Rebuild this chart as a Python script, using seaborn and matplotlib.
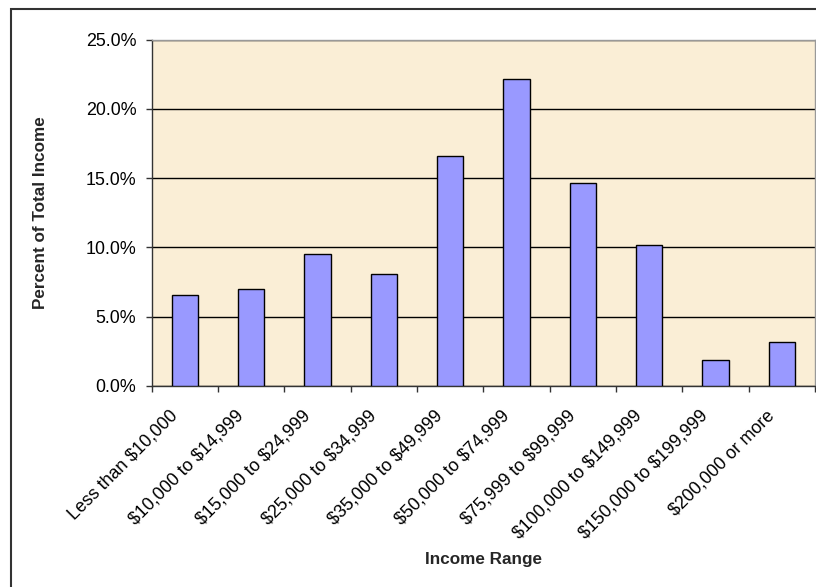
import matplotlib
matplotlib.use("Agg")
import matplotlib.pyplot as plt
import matplotlib.transforms as mtransforms
from matplotlib.patches import Rectangle
from matplotlib.ticker import PercentFormatter, FixedLocator
import seaborn as sns
import pandas as pd

categories = [
    "Less than $10,000",
    "$10,000 to $14,999",
    "$15,000 to $24,999",
    "$25,000 to $34,999",
    "$35,000 to $49,999",
    "$50,000 to $74,999",
    "$75,999 to $99,999",
    "$100,000 to $149,999",
    "$150,000 to $199,999",
    "$200,000 or more",
]
percent_values = [6.6, 7.0, 9.5, 8.05, 16.6, 22.15, 14.65, 10.2, 1.85, 3.2]
y_ticks = [0, 5, 10, 15, 20, 25]

sns.set_theme(style="white")
plt.rcParams["font.family"] = ["Liberation Sans", "DejaVu Sans"]
plt.rcParams["text.parse_math"] = False

df = pd.DataFrame({"Income Range": categories, "Percent": percent_values})

fig = plt.figure(figsize=(8.16, 5.87), dpi=100)
fig.patch.set_facecolor("white")
ax = fig.add_axes([151.7 / 816, 1 - 386 / 587, (815 - 151.7) / 816, (386 - 39.5) / 587])
ax.set_facecolor("#FAEED6")

sns.barplot(data=df, x="Income Range", y="Percent", color="#9999FF",
            saturation=1, width=0.4, edgecolor="black", linewidth=1.0,
            ax=ax, zorder=3)

ax.set_ylim(0, 25)
ax.set_xlim(-0.5, len(categories) - 0.5)
ax.set_yticks(y_ticks)
ax.yaxis.set_major_formatter(PercentFormatter(decimals=1))
ax.grid(axis="y", color="black", linewidth=1.0, zorder=1)
ax.set_axisbelow(True)

# tick marks at category boundaries
ax.xaxis.set_minor_locator(FixedLocator([i - 0.5 for i in range(len(categories) + 1)]))
ax.tick_params(axis="x", which="minor", bottom=True, length=4, width=1, color="#333333")
ax.tick_params(axis="x", which="major", bottom=True, length=0, pad=15, labelsize=12.9, colors="black")
ax.tick_params(axis="y", which="major", left=True, length=4, width=1, pad=7, labelsize=12.9, color="#333333", labelcolor="black")

offset = mtransforms.ScaledTranslation(-0.16, 0, fig.dpi_scale_trans)
for lab in ax.get_xticklabels():
    lab.set_rotation(45)
    lab.set_ha("right")
    lab.set_va("top")
    lab.set_rotation_mode("anchor")
    lab.set_transform(lab.get_transform() + offset)

for side in ["left", "bottom"]:
    ax.spines[side].set_color("#333333")
    ax.spines[side].set_linewidth(1.0)
for side in ["top", "right"]:
    ax.spines[side].set_color("#999999")
    ax.spines[side].set_linewidth(1.0)
    ax.spines[side].set_visible(True)

ax.set_xlabel("Income Range", fontsize=12.3, fontweight="bold", va="center")
ax.xaxis.set_label_coords(0.5, -(559.5 - 386) / (386 - 39.5))
ax.set_ylabel("Percent of Total Income", fontsize=12.3, fontweight="bold", va="center")
ax.yaxis.set_label_coords((41 - 151.7) / (815 - 151.7), 0.5)

# outer chart border
fig.patches.append(Rectangle((11 / 816, -0.1), 2, 1 - 9 / 587 + 0.1,
                             transform=fig.transFigure, fill=False,
                             edgecolor="#333333", linewidth=1.5))

fig.savefig("out.png", dpi=100)
